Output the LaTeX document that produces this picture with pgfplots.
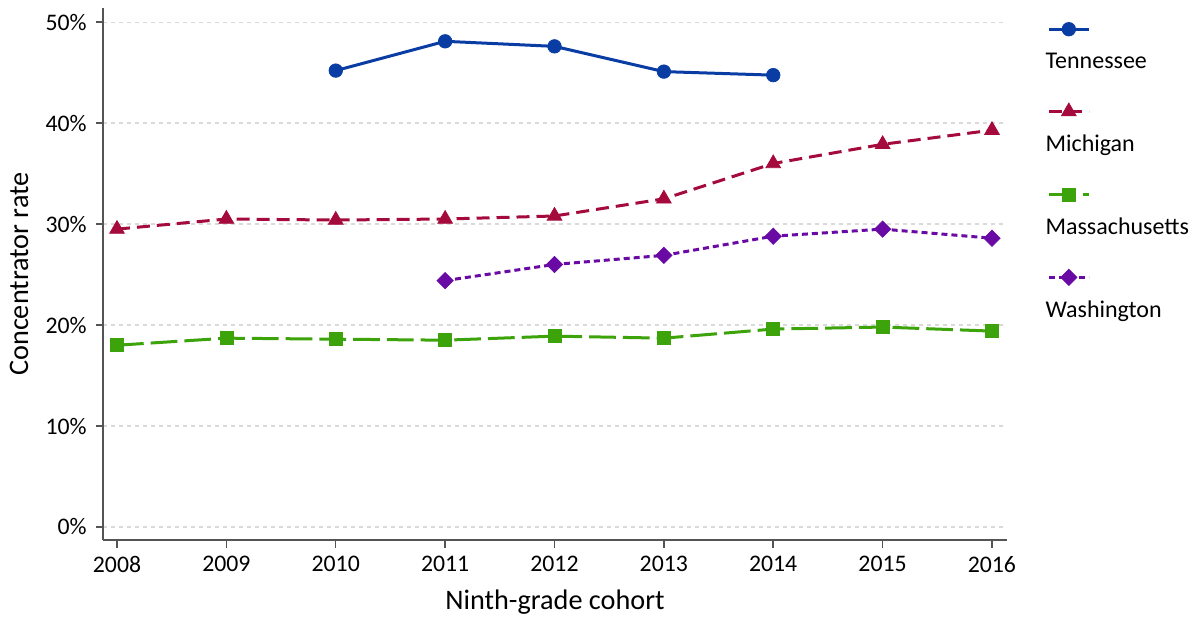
\documentclass[border=0pt]{standalone}
\usepackage{fontspec}
\setmainfont{Carlito}
\usepackage{pgfplots}
\pgfplotsset{compat=1.18}

\definecolor{tnblue}{HTML}{0A3DA3}
\definecolor{mired}{HTML}{A50A3C}
\definecolor{magreen}{HTML}{3CA30A}
\definecolor{wapurple}{HTML}{6A0AA5}
\definecolor{axgray}{HTML}{555555}

\begin{document}
\begin{tikzpicture}
\begin{axis}[
  scale only axis,
  width=361.6pt,
  height=212.8pt,
  xmin=2007.872, xmax=2016.137,
  ymin=-1.29, ymax=51.4,
  axis x line*=bottom,
  axis y line*=left,
  axis line style={axgray, line width=0.8pt},
  tick align=outside,
  major tick length=3pt,
  tick style={axgray, line width=0.6pt},
  xtick={2008,...,2016},
  ytick={0,10,...,50},
  xticklabel style={/pgf/number format/1000 sep={}},
  yticklabel={\pgfmathprintnumber{\tick}\%},
  /pgf/number format/assume math mode=true,
  ticklabel style={font=\fontsize{9.5}{11}\selectfont},
  ymajorgrids,
  grid style={gray!30, line width=0.5pt, dash pattern=on 1.6pt off 1.6pt},
  xlabel={Ninth-grade cohort},
  ylabel={Concentrator rate},
  label style={font=\fontsize{11.3}{13}\selectfont},
  legend cell align=left,
  legend style={draw=none, fill=none, anchor=north west, at={(1.033,0.925)},
    row sep=21pt, font=\fontsize{9.6}{11}\selectfont, inner sep=0pt},
  legend image code/.code={%
    \path (0pt,0pt) (0.1pt,0pt);
    \draw[overlay, mark repeat=2, mark phase=2, #1]
      plot coordinates {(4pt,13.5pt) (12pt,13.5pt) (20pt,13.5pt)};},
]
\addplot[tnblue, line width=1.2pt, mark=*, mark size=2.7pt,
  mark options={solid, line width=0.3pt}]
  coordinates {(2010,45.2) (2011,48.1) (2012,47.6) (2013,45.1) (2014,44.75)};
\addlegendentry{Tennessee}
\addplot[mired, line width=1.2pt, dash pattern=on 5.2pt off 2.8pt,
  mark=triangle*, mark size=3.4pt, mark options={solid, line width=0.3pt}]
  coordinates {(2008,29.5) (2009,30.5) (2010,30.4) (2011,30.5) (2012,30.8)
    (2013,32.5) (2014,36.0) (2015,37.9) (2016,39.3)};
\addlegendentry{Michigan}
\addplot[magreen, line width=1.2pt, dash pattern=on 10.7pt off 2.8pt,
  mark=square*, mark size=2.6pt, mark options={solid, line width=0.3pt}]
  coordinates {(2008,18.0) (2009,18.7) (2010,18.6) (2011,18.5) (2012,18.9)
    (2013,18.7) (2014,19.6) (2015,19.8) (2016,19.4)};
\addlegendentry{Massachusetts}
\addplot[wapurple, line width=1.2pt, dash pattern=on 2.4pt off 1.6pt,
  mark=square*, mark size=2.3pt, mark options={solid, rotate=45, line width=0.3pt}]
  coordinates {(2011,24.4) (2012,26.0) (2013,26.9) (2014,28.8) (2015,29.5)
    (2016,28.6)};
\addlegendentry{Washington}
\end{axis}
\pgfresetboundingbox
\path[use as bounding box] (-41.2pt,-32.8pt) rectangle (437.6pt,216pt);
\end{tikzpicture}
\end{document}
